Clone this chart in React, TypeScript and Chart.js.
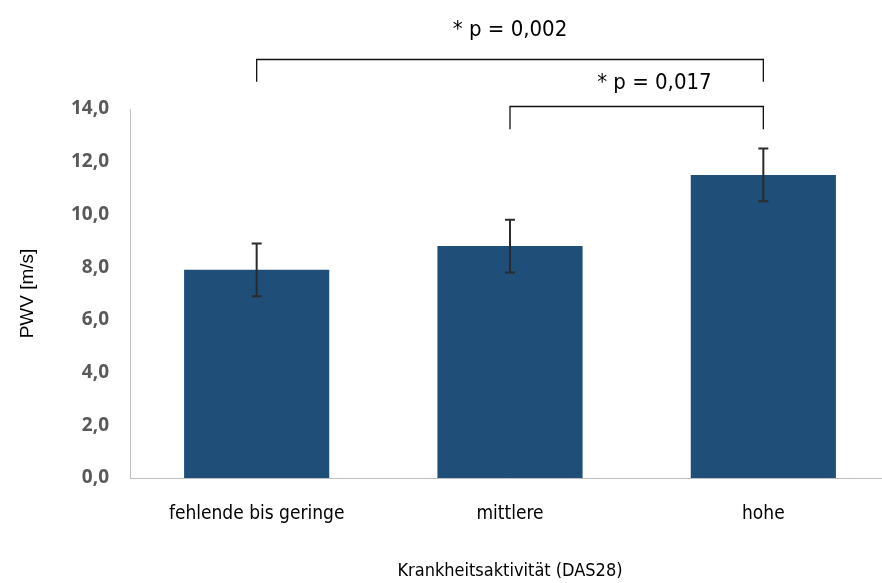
import React, { useEffect, useRef } from "react";
import { Chart, registerables } from "chart.js";

Chart.register(...registerables);

const categories = ["fehlende bis geringe", "mittlere", "hohe"];
const pwvMeans = [7.9, 8.8, 11.5];
const pwvErrors = [1.0, 1.0, 1.0];
const yTicks = [0, 2, 4, 6, 8, 10, 12, 14];

// significance brackets: from category index, to category index, level (m/s), label
const bracketFrom = [0, 1];
const bracketTo = [2, 2];
const bracketLevel = [15.9, 14.1];
const bracketLabels = ["* p = 0,002", "* p = 0,017"];
const bracketLabelX = [1.0, 1.57];
const bracketLabelY = [17.0, 14.98];

const BAR_COLOR = "#1F4E79";
const NARROW = "'DejaVu Sans Condensed', 'Liberation Sans Narrow', Arial, sans-serif";

const overlayPlugin = {
  id: "overlay",
  afterDatasetsDraw(chart: any) {
    const { ctx, scales } = chart;
    const x = scales.x;
    const y = scales.y;
    ctx.save();
    // error bars
    pwvMeans.forEach((m, i) => {
      const cx = x.getPixelForValue(i);
      const top = y.getPixelForValue(m + pwvErrors[i]);
      const bot = y.getPixelForValue(m - pwvErrors[i]);
      ctx.strokeStyle = "#2b2b2b";
      ctx.lineWidth = 2;
      ctx.beginPath();
      ctx.moveTo(cx, top);
      ctx.lineTo(cx, bot);
      ctx.moveTo(cx - 5, top);
      ctx.lineTo(cx + 5, top);
      ctx.moveTo(cx - 5, bot);
      ctx.lineTo(cx + 5, bot);
      ctx.stroke();
    });
    // brackets
    const drop = 0.87;
    bracketFrom.forEach((f, i) => {
      const x1 = x.getPixelForValue(f);
      const x2 = x.getPixelForValue(bracketTo[i]);
      const yl = Math.round(y.getPixelForValue(bracketLevel[i])) + 0.5;
      const yd = y.getPixelForValue(bracketLevel[i] - drop);
      ctx.strokeStyle = "#111";
      ctx.lineWidth = 1.3;
      ctx.beginPath();
      ctx.moveTo(x1, yd);
      ctx.lineTo(x1, yl);
      ctx.lineTo(x2, yl);
      ctx.lineTo(x2, yd);
      ctx.stroke();
      ctx.fillStyle = "#000";
      ctx.font = "22px " + NARROW;
      ctx.textAlign = "center";
      ctx.textBaseline = "middle";
      const tx = x.getPixelForValue(bracketLabelX[i]);
      const ty = y.getPixelForValue(bracketLabelY[i]);
      ctx.fillText(bracketLabels[i], tx, ty);
    });
    ctx.restore();
  },
};

export default function App() {
  const ref = useRef<HTMLCanvasElement | null>(null);
  useEffect(() => {
    if (!ref.current) return;
    const chart = new Chart(ref.current, {
      type: "bar",
      data: {
        labels: categories,
        datasets: [
          {
            data: pwvMeans,
            backgroundColor: BAR_COLOR,
            borderWidth: 0,
            barPercentage: 0.573,
            categoryPercentage: 1,
          },
        ],
      },
      plugins: [overlayPlugin],
      options: {
        animation: false,
        responsive: true,
        maintainAspectRatio: false,
        layout: { padding: { top: 109, right: 0, left: 0, bottom: 0 } },
        plugins: { legend: { display: false }, tooltip: { enabled: false } },
        scales: {
          x: {
            grid: { display: false, drawTicks: false },
            border: { display: true, color: "#bfbfbf", width: 1 },
            ticks: {
              color: "#000",
              padding: 25,
              font: { family: NARROW, size: 19 },
            },
            title: {
              display: true,
              text: "Krankheitsaktivität (DAS28)",
              color: "#000",
              font: { family: NARROW, size: 18 },
              padding: { top: 0, bottom: 1 },
            },
            afterFit(scale: any) {
              scale.height = 105;
            },
          },
          y: {
            min: 0,
            max: 14,
            afterBuildTicks(scale: any) {
              scale.ticks = yTicks.map((v) => ({ value: v }));
            },
            grid: { display: false, drawTicks: false },
            border: { display: true, color: "#bfbfbf", width: 1 },
            ticks: {
              color: "#595959",
              padding: 21,
              font: { family: "'Open Sans', sans-serif", size: 19, weight: "bold" },
              callback: (v: any) => Number(v).toFixed(1).replace(".", ","),
            },
            title: {
              display: true,
              text: "PWV [m/s]",
              color: "#000",
              font: { family: "'Liberation Sans', Arial", size: 19 },
              padding: { top: 16, bottom: 0 },
            },
            afterFit(scale: any) {
              scale.width = 130;
            },
          },
        },
      },
    });
    return () => chart.destroy();
  }, []);
  return (
    <div style={{ position: "fixed", left: 0, top: 0, width: 882, height: 583, overflow: "hidden", background: "#fff" }}>
      <div style={{ position: "absolute", left: 0, top: 0, width: 890, height: 583 }}>
        <canvas ref={ref} />
      </div>
    </div>
  );
}
